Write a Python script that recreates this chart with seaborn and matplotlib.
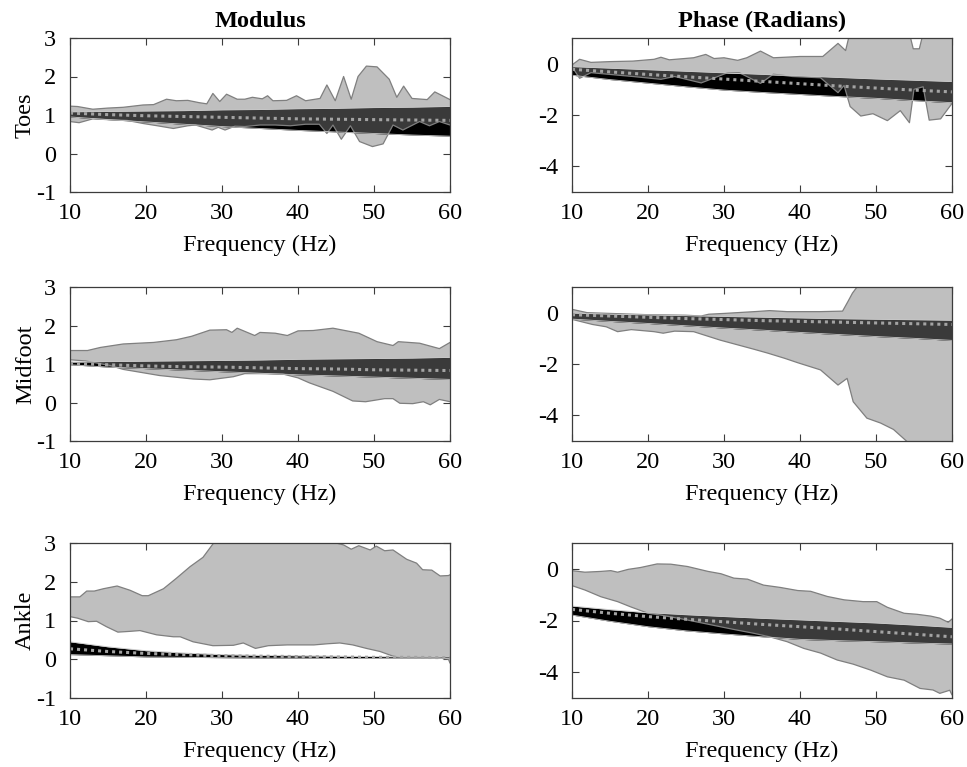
import numpy as np
import matplotlib
matplotlib.use("Agg")
import matplotlib.pyplot as plt
import seaborn as sns

# ---------------- data ----------------
band_hz = [10, 15, 20, 25, 30, 35, 40, 45, 50, 55, 60]
x_ticks = [10, 20, 30, 40, 50, 60]
mod_yticks = [-1, 0, 1, 2, 3]
phase_yticks = [-4, -2, 0]
row_labels = ["Toes", "Midfoot", "Ankle"]
col_titles = ["Modulus", "Phase (Radians)"]
x_label = "Frequency (Hz)"

# Toes, modulus
toes_mod_up_hz = [10, 11, 13, 15, 17, 19.6, 21, 22.7, 24, 25.5, 27, 28, 28.8, 29.7, 30.6, 32, 33, 34, 35.3, 36, 36.7,
                  38.5, 39.8, 41, 42.9, 43.8, 44.9, 46, 47, 47.9, 49, 50.4, 52, 53, 53.9, 55, 57, 58, 60]
toes_mod_up = [1.23, 1.22, 1.15, 1.18, 1.20, 1.26, 1.27, 1.41, 1.37, 1.38, 1.32, 1.29, 1.56, 1.35, 1.54, 1.41, 1.41,
               1.46, 1.42, 1.50, 1.37, 1.38, 1.50, 1.37, 1.43, 1.78, 1.37, 2.00, 1.41, 2.00, 2.27, 2.25, 1.93, 1.46,
               1.75, 1.43, 1.40, 1.60, 1.40]
toes_mod_lo_hz = [10, 11.2, 13, 15, 17.5, 19.6, 21.5, 23.6, 25.5, 26.5, 28.7, 29.5, 30.4, 31.7, 33, 35, 37, 39, 41,
                  42.8, 43.8, 44.6, 45.7, 46.9, 48.1, 49.8, 51.2, 52.5, 53.8, 56, 57.3, 58.6, 60]
toes_mod_lo = [0.83, 0.80, 0.90, 0.88, 0.86, 0.78, 0.72, 0.65, 0.72, 0.74, 0.61, 0.68, 0.61, 0.71, 0.70, 0.74, 0.74,
               0.72, 0.76, 0.76, 0.52, 0.74, 0.37, 0.72, 0.31, 0.18, 0.25, 0.74, 0.61, 0.83, 0.72, 0.83, 0.74]
toes_mod_bhi = [1.08, 1.09, 1.10, 1.11, 1.13, 1.14, 1.16, 1.17, 1.19, 1.20, 1.22]
toes_mod_blo = [0.95, 0.88, 0.82, 0.76, 0.70, 0.65, 0.60, 0.56, 0.52, 0.48, 0.45]
toes_mod_mean = [1.05, 1.01, 0.98, 0.96, 0.94, 0.92, 0.90, 0.89, 0.88, 0.87, 0.86]

# Toes, phase
toes_ph_up_hz = [10, 11, 12.5, 15, 18, 20.8, 21.7, 22.8, 26, 27.6, 28.7, 30, 31.8, 33, 34.8, 36.5, 38, 40, 43, 45, 46,
                 46.4, 47, 50, 54.3, 54.9, 55.7, 56.3, 60]
toes_ph_up = [-0.05, 0.17, 0.05, 0.08, 0.10, 0.17, 0.25, 0.15, 0.23, 0.36, 0.20, 0.23, 0.13, 0.23, 0.49, 0.23, 0.25,
              0.28, 0.28, 0.79, 0.51, 1.00, 1.60, 1.60, 1.30, 0.58, 0.58, 1.30, 1.60]
toes_ph_lo_hz = [10, 11, 12.5, 15, 18, 21.7, 23.5, 27, 30.5, 32, 34.8, 36.5, 39, 42.7, 45, 45.8, 46.6, 48, 49.6, 51.5,
                 53.2, 54.4, 55, 56.2, 57, 58.5, 60]
toes_ph_lo = [-0.12, -0.57, -0.35, -0.42, -0.50, -0.61, -0.50, -0.75, -0.35, -0.35, -0.77, -0.41, -0.50, -0.55, -1.13,
              -0.85, -1.67, -2.04, -1.95, -2.22, -1.83, -2.30, -1.00, -0.90, -2.20, -2.15, -1.55]
toes_ph_bhi = [-0.12, -0.18, -0.24, -0.30, -0.36, -0.42, -0.48, -0.54, -0.60, -0.65, -0.70]
toes_ph_blo = [-0.45, -0.62, -0.76, -0.90, -1.03, -1.12, -1.20, -1.28, -1.35, -1.44, -1.52]
toes_ph_mean = [-0.22, -0.32, -0.42, -0.51, -0.60, -0.69, -0.78, -0.87, -0.95, -1.03, -1.10]

# Midfoot, modulus
mid_mod_up_hz = [10, 12.3, 14, 17, 21, 24, 26, 28.4, 30.6, 31.3, 32, 34.3, 35, 37, 38.6, 40, 42, 44.6, 48, 50.4, 52.5,
                 53.2, 56, 58.6, 60]
mid_mod_up = [1.35, 1.35, 1.43, 1.52, 1.56, 1.63, 1.72, 1.88, 1.89, 1.82, 1.93, 1.74, 1.82, 1.80, 1.74, 1.86, 1.87,
              1.93, 1.80, 1.58, 1.48, 1.58, 1.54, 1.40, 1.56]
mid_mod_lo_hz = [10, 12, 15.3, 17, 21.8, 26.2, 28.4, 31.5, 33, 35, 38, 40, 41.5, 44.6, 47.2, 48.9, 51.4, 52.5, 53.4,
                 55.1, 56.5, 57.4, 58.6, 60]
mid_mod_lo = [1.11, 1.08, 0.96, 0.86, 0.70, 0.61, 0.59, 0.67, 0.75, 0.75, 0.74, 0.64, 0.51, 0.29, 0.04, 0.02, 0.10,
              0.10, -0.02, -0.03, 0.02, -0.06, 0.08, 0.02]
mid_mod_bhi = [1.05, 1.06, 1.07, 1.08, 1.09, 1.10, 1.12, 1.13, 1.14, 1.15, 1.17]
mid_mod_blo = [0.98, 0.92, 0.88, 0.84, 0.80, 0.76, 0.72, 0.69, 0.66, 0.63, 0.60]
mid_mod_mean = [1.02, 0.98, 0.95, 0.93, 0.92, 0.90, 0.88, 0.87, 0.85, 0.84, 0.83]

# Midfoot, phase
mid_ph_up_hz = [10, 12, 15, 20, 25, 27, 28, 30, 34, 36, 38.3, 42.6, 45.6, 46.3, 46.9, 47.5, 48.5, 60]
mid_ph_up = [0.13, 0.00, -0.03, -0.08, -0.10, -0.13, -0.06, -0.03, 0.04, 0.08, 0.04, 0.04, 0.06, 0.43, 0.76, 1.00,
             1.40, 1.40]
mid_ph_lo_hz = [10, 12.7, 14.5, 16, 17.8, 20.8, 22, 23.5, 26, 29.5, 34, 35.8, 38, 39.7, 42.7, 45, 46.2, 47, 48.8,
                50.6, 52.3, 54, 55, 60]
mid_ph_lo = [-0.26, -0.46, -0.55, -0.74, -0.66, -0.74, -0.80, -0.72, -0.74, -1.07, -1.43, -1.58, -1.78, -1.95, -2.23,
             -2.82, -2.56, -3.47, -4.11, -4.30, -4.55, -5.00, -5.50, -5.50]
mid_ph_bhi = [-0.02, -0.06, -0.09, -0.12, -0.15, -0.18, -0.21, -0.24, -0.26, -0.28, -0.30]
mid_ph_blo = [-0.25, -0.34, -0.42, -0.51, -0.60, -0.68, -0.77, -0.85, -0.93, -1.00, -1.08]
mid_ph_mean = [-0.08, -0.13, -0.18, -0.23, -0.27, -0.31, -0.34, -0.37, -0.40, -0.43, -0.46]

# Ankle, modulus
ank_mod_up_hz = [10, 11.3, 12.2, 13.2, 14.4, 16.2, 17.9, 19.5, 20.3, 22.3, 24, 25.8, 27.5, 28.9, 29.5, 44, 45, 46, 47,
                 48, 49.5, 50.3, 51.4, 52.5, 54.3, 55.6, 56.4, 57.6, 58.7, 59.8, 60]
ank_mod_up = [1.61, 1.61, 1.76, 1.76, 1.82, 1.89, 1.78, 1.64, 1.64, 1.82, 2.09, 2.39, 2.63, 3.00, 3.30, 3.30, 3.00,
              2.95, 2.84, 2.93, 2.82, 2.92, 2.80, 2.82, 2.58, 2.48, 2.31, 2.30, 2.15, 2.16, 2.18]
ank_mod_lo_hz = [10, 11, 12.4, 13.5, 14.8, 16.3, 17.9, 19.2, 21.4, 23.6, 24.5, 26.2, 28.8, 31.5, 32.8, 34.4, 36.1,
                 38.6, 42.1, 43.9, 45.5, 47.2, 49, 50.8, 52.5, 53.4, 56, 58.6, 59.8, 60]
ank_mod_lo = [1.10, 1.06, 0.97, 0.98, 0.84, 0.70, 0.72, 0.74, 0.63, 0.58, 0.58, 0.45, 0.35, 0.36, 0.42, 0.28, 0.35,
              0.37, 0.37, 0.40, 0.42, 0.37, 0.28, 0.20, 0.08, 0.05, 0.05, 0.04, 0.00, -0.10]
ank_mod_bhi = [0.45, 0.32, 0.22, 0.16, 0.12, 0.10, 0.09, 0.08, 0.07, 0.06, 0.06]
ank_mod_blo = [0.12, 0.09, 0.06, 0.05, 0.04, 0.03, 0.03, 0.02, 0.02, 0.02, 0.02]
ank_mod_mean = [0.27, 0.20, 0.15, 0.12, 0.09, 0.08, 0.07, 0.06, 0.05, 0.05, 0.04]

# Ankle, phase
ank_ph_up_hz = [10, 11.7, 13.8, 15.1, 16, 17.4, 19, 21.2, 23, 25.2, 27.9, 29.6, 31.3, 33.1, 35.2, 37.4, 39.7, 41.4,
                43.6, 45.8, 48.3, 50.1, 51.5, 53.7, 55.4, 57.2, 58.4, 59.5, 60]
ank_ph_up = [-0.07, -0.13, -0.10, -0.07, -0.13, -0.02, 0.05, 0.19, 0.18, 0.09, -0.10, -0.19, -0.36, -0.40, -0.63,
             -0.72, -0.84, -0.87, -1.07, -1.20, -1.27, -1.27, -1.49, -1.72, -1.76, -1.83, -1.91, -2.07, -1.94]
ank_ph_lo_hz = [10, 11.7, 13.8, 16, 17.7, 20, 21.7, 25, 28, 31, 34, 36, 38.3, 40.5, 42.7, 44.9, 47, 49.3, 51.5, 53.7,
                55.8, 57.5, 58.4, 59.7, 60]
ank_ph_lo = [-0.65, -0.82, -1.08, -1.27, -1.47, -1.72, -1.79, -1.97, -2.15, -2.33, -2.50, -2.63, -2.82, -3.08, -3.26,
             -3.53, -3.69, -3.92, -4.18, -4.31, -4.63, -4.69, -4.82, -4.70, -4.88]
ank_ph_bhi = [-1.44, -1.58, -1.70, -1.78, -1.85, -1.92, -1.98, -2.04, -2.10, -2.18, -2.27]
ank_ph_blo = [-1.79, -2.03, -2.24, -2.40, -2.52, -2.63, -2.73, -2.78, -2.82, -2.87, -2.91]
ank_ph_mean = [-1.57, -1.72, -1.85, -1.95, -2.05, -2.15, -2.24, -2.33, -2.43, -2.53, -2.63]

panels = [
    [(toes_mod_up_hz, toes_mod_up, toes_mod_lo_hz, toes_mod_lo, toes_mod_bhi, toes_mod_blo, toes_mod_mean),
     (toes_ph_up_hz, toes_ph_up, toes_ph_lo_hz, toes_ph_lo, toes_ph_bhi, toes_ph_blo, toes_ph_mean)],
    [(mid_mod_up_hz, mid_mod_up, mid_mod_lo_hz, mid_mod_lo, mid_mod_bhi, mid_mod_blo, mid_mod_mean),
     (mid_ph_up_hz, mid_ph_up, mid_ph_lo_hz, mid_ph_lo, mid_ph_bhi, mid_ph_blo, mid_ph_mean)],
    [(ank_mod_up_hz, ank_mod_up, ank_mod_lo_hz, ank_mod_lo, ank_mod_bhi, ank_mod_blo, ank_mod_mean),
     (ank_ph_up_hz, ank_ph_up, ank_ph_lo_hz, ank_ph_lo, ank_ph_bhi, ank_ph_blo, ank_ph_mean)],
]

# ---------------- style ----------------
sns.set_theme(style="ticks")
plt.rcParams["font.family"] = ["Liberation Serif", "DejaVu Serif"]
plt.rcParams["axes.unicode_minus"] = False

W, H = 967, 767
fig = plt.figure(figsize=(W / 100, H / 100), dpi=100)
fig.patch.set_facecolor("white")

col_x = [(70, 450), (572, 952)]
row_y = [(38, 192), (287, 441), (543, 698)]

ENV = "#bfbfbf"
ENV_EDGE = "#7f7f7f"
BAND_IN = "#3a3a3a"
FS = 17.5

for r in range(3):
    for c in range(2):
        x0, x1 = col_x[c]
        y0, y1 = row_y[r]
        ax = fig.add_axes([x0 / W, 1 - y1 / H, (x1 - x0) / W, (y1 - y0) / H])
        up_hz, up, lo_hz, lo, bhi, blo, bmean = panels[r][c]

        # experimental envelope
        poly_x = np.r_[np.asarray(up_hz, float), np.asarray(lo_hz, float)[::-1]]
        poly_y = np.r_[np.asarray(up, float), np.asarray(lo, float)[::-1]]
        env = ax.fill(poly_x, poly_y, color=ENV, lw=0, zorder=1)[0]

        # model band: black outside the envelope, dark gray inside
        ax.fill_between(band_hz, blo, bhi, color="black", lw=0, zorder=2)
        inner = ax.fill_between(band_hz, blo, bhi, color=BAND_IN, lw=0, zorder=3)
        inner.set_clip_path(env)

        # envelope outlines
        sns.lineplot(x=up_hz, y=up, ax=ax, color=ENV_EDGE, lw=0.9, sort=False, estimator=None, zorder=4)
        sns.lineplot(x=lo_hz, y=lo, ax=ax, color=ENV_EDGE, lw=0.9, sort=False, estimator=None, zorder=4)

        # band edge curves
        sns.lineplot(x=band_hz, y=bhi, ax=ax, color="#c8c8c8", lw=0.6, sort=False, estimator=None, zorder=5)
        sns.lineplot(x=band_hz, y=blo, ax=ax, color="#c8c8c8", lw=0.6, sort=False, estimator=None, zorder=5)

        # mean dotted line
        sns.lineplot(x=band_hz, y=bmean, ax=ax, color="#a3a3a3", lw=2.2, sort=False, estimator=None,
                     linestyle=(0, (1, 1.3)), dash_capstyle="butt", zorder=6)

        ax.set_xlim(10, 60)
        ax.set_xticks(x_ticks)
        if c == 0:
            ax.set_ylim(-1, 3)
            ax.set_yticks(mod_yticks)
            ax.set_ylabel(row_labels[r], fontsize=FS, labelpad=0, color="black")
        else:
            ax.set_ylim(-5, 1)
            ax.set_yticks(phase_yticks)
            ax.set_ylabel("")
        ax.set_xlabel(x_label, fontsize=FS, labelpad=8, color="black")
        if r == 0:
            ax.set_title(col_titles[c], fontsize=FS, fontweight="bold", pad=8, color="black")

        ax.tick_params(direction="in", length=5, width=0.8, top=True, right=True,
                       labelsize=FS, color="#3c3c3c", labelcolor="black")
        ax.tick_params(axis="x", pad=8)
        ax.tick_params(axis="y", pad=10)
        for sp in ax.spines.values():
            sp.set_visible(True)
            sp.set_linewidth(0.9)
            sp.set_color("#3c3c3c")
            sp.set_zorder(10)
        ax.set_facecolor("white")

fig.savefig("out.png", dpi=100, facecolor="white")
